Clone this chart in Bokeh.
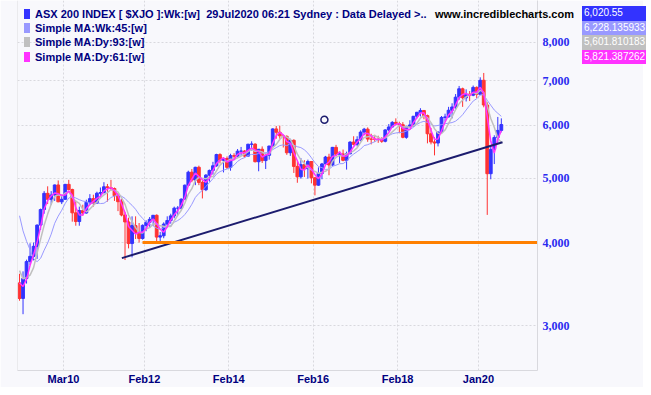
import html
import numpy as np
from bokeh.plotting import figure
from bokeh.models import (FixedTicker, NumeralTickFormatter, Span, ColumnDataSource,
                          Range1d, GridBox, Div)
from bokeh.embed import file_html
from bokeh.resources import INLINE

# ---------------- data (monthly bars, ASX 200, Feb 2009 .. Jul 2020) ----------------
start_year, start_month = 2009, 2
# closes before the first bar (May 2008 .. Jan 2009), used only to seed the moving averages
seed_closes = [5773, 5215, 4979, 5142, 4631, 4043, 3673, 3659, 3478]

closes = [
    3296, 3532, 3745, 3813, 3948, 4249, 4484, 4743, 4646, 4716, 4883,
    4606, 4646, 4893, 4807, 4433, 4302, 4469, 4431, 4599, 4657, 4584, 4745,
    4756, 4852, 4837, 4823, 4704, 4608, 4400, 4296, 3986, 4242, 4133, 4057,
    4245, 4289, 4335, 4396, 4076, 4095, 4264, 4317, 4387, 4506, 4506, 4649,
    4879, 5104, 4966, 5191, 4926, 4803, 5052, 5135, 5218, 5425, 5320, 5352,
    5190, 5405, 5395, 5489, 5492, 5396, 5623, 5625, 5292, 5526, 5313, 5411,
    5588, 5929, 5861, 5790, 5777, 5459, 5699, 5207, 5022, 5239, 5166, 5296,
    5005, 4880, 5082, 5252, 5378, 5233, 5562, 5433, 5436, 5317, 5440, 5665,
    5621, 5712, 5864, 5924, 5724, 5721, 5720, 5715, 5681, 5909, 5969, 6065,
    6037, 6016, 5759, 5982, 6011, 6195, 6280, 6320, 6208, 5830, 5667, 5646,
    5864, 6169, 6181, 6325, 6397, 6618, 6813, 6604, 6688, 6663, 6846, 6684,
    7017, 6441, 5077, 5523, 5755, 5898, 6020,
]
highs = [
    3590, 3620, 3770, 3990, 4000, 4260, 4500, 4780, 4860, 4780, 4890,
    4960, 4720, 4900, 4970, 4820, 4620, 4530, 4560, 4640, 4730, 4720, 4770,
    4840, 4930, 4900, 4970, 4840, 4750, 4650, 4440, 4360, 4380, 4380, 4280,
    4260, 4320, 4370, 4400, 4410, 4150, 4290, 4380, 4420, 4530, 4540, 4660,
    4890, 5130, 5160, 5200, 5220, 4960, 5070, 5150, 5290, 5440, 5450, 5370,
    5390, 5440, 5450, 5530, 5570, 5510, 5630, 5680, 5640, 5530, 5580, 5460,
    5590, 5940, 5990, 5996, 5800, 5800, 5730, 5720, 5300, 5360, 5320, 5330,
    5300, 5020, 5190, 5270, 5400, 5440, 5570, 5610, 5480, 5520, 5480, 5680,
    5780, 5780, 5900, 5950, 5960, 5830, 5810, 5790, 5760, 5920, 6030, 6090,
    6150, 6080, 6070, 5990, 6110, 6200, 6290, 6370, 6330, 6230, 5950, 5760,
    5880, 6200, 6250, 6400, 6480, 6690, 6880, 6840, 6800, 6760, 6890, 6870,
    7090, 7197, 6500, 5600, 5800, 6180, 6150,
]
lows = [
    3270, 3121, 3470, 3700, 3760, 3780, 4180, 4420, 4570, 4560, 4620,
    4600, 4570, 4640, 4790, 4300, 4240, 4240, 4390, 4420, 4560, 4530, 4580,
    4690, 4740, 4610, 4790, 4620, 4460, 4380, 3765, 3920, 3800, 4050, 4000,
    4040, 4160, 4210, 4240, 3980, 3985, 4060, 4220, 4270, 4350, 4400, 4480,
    4640, 4860, 4930, 4880, 4880, 4660, 4780, 4940, 5060, 5200, 5260, 5100,
    5160, 5130, 5330, 5370, 5400, 5370, 5390, 5500, 5280, 5120, 5270, 5160,
    5330, 5580, 5730, 5730, 5560, 5420, 5400, 5090, 4920, 4990, 5020, 4990,
    4910, 4710, 4870, 4980, 5230, 5050, 5210, 5390, 5270, 5300, 5150, 5430,
    5600, 5580, 5680, 5800, 5670, 5620, 5670, 5650, 5650, 5660, 5880, 5960,
    6000, 5840, 5740, 5730, 5960, 5970, 6150, 6190, 6130, 5640, 5620, 5410,
    5580, 5850, 6080, 6170, 6150, 6340, 6560, 6400, 6520, 6530, 6640, 6600,
    6680, 6390, 4402, 4980, 5250, 5650, 5860,
]

ma_periods = {"wk45": 10, "dy93": 5, "dy61": 3}  # in monthly bars

# annotations drawn on the chart
trend_t = [2011.55, 2020.57]
trend_v = [3790, 5660]
level_t = [2012.04, 2021.40]
level_v = [4000, 4000]
marker_t = [2016.35]
marker_v = [6118]

tick_pos = [2010.167, 2012.083, 2014.083, 2016.083, 2018.083, 2020.0]
tick_lab = ["Mar10", "Feb12", "Feb14", "Feb16", "Feb18", "Jan20"]
y_ticks = [3000, 4000, 5000, 6000, 7000, 8000]

header_title = "ASX 200 INDEX [ $XJO ]:Wk:[w]  29Jul2020 06:21 Sydney : Data Delayed >.."
legend_names = ["Simple MA:Wk:45:[w]", "Simple MA:Dy:93:[w]", "Simple MA:Dy:61:[w]"]
value_texts = ["6,020.55", "6,228.135933", "5,601.810183", "5,821.387262"]
site_text = "www.incrediblecharts.com"

# ---------------- derived ----------------
n = len(closes)
t = np.array([start_year + (start_month - 1 + i + 0.5) / 12.0 for i in range(n)])
c = np.array(closes, float)
o = np.array([seed_closes[-1]] + closes[:-1], float)
h = np.array(highs, float)
l = np.array(lows, float)

BLUE = "#3333ff"
RED = "#ff3333"
LAV = "#9999ff"
GREY = "#c0c0c0"
MAG = "#ff33ff"
NAVY = "#000080"
BG = "#f8f8fc"
GRIDC = "#d9d9de"

colors = [BLUE if cc >= oo else RED for cc, oo in zip(c, o)]
src = ColumnDataSource(dict(t=t, o=o, h=h, l=l, c=c,
                            top=np.maximum(o, c), bot=np.minimum(o, c), color=colors))

allc = np.array(seed_closes + closes, float)
off = len(seed_closes)


def sma(period):
    return np.array([allc[i + off - period + 1:i + off + 1].mean() for i in range(n)])


W, H = 643, 387

# ---------------- main chart ----------------
p = figure(width=W, height=H, y_axis_type="log", y_axis_location="right",
           x_range=Range1d(2009.077, 2021.399), y_range=Range1d(2568, 9250),
           output_backend="svg", toolbar_location=None,
           min_border_left=17, min_border_right=W - 537, min_border_top=0,
           min_border_bottom=H - 372,
           background_fill_color=BG, border_fill_color=BG)
p.outline_line_color = None

p.xaxis.ticker = FixedTicker(ticks=tick_pos)
p.xaxis.major_label_overrides = {k: v for k, v in zip(tick_pos, tick_lab)}
p.xaxis.major_label_text_font = "Liberation Sans"
p.xaxis.major_label_text_font_style = "bold"
p.xaxis.major_label_text_font_size = "11px"
p.xaxis.major_label_text_color = NAVY
p.xaxis.major_tick_line_color = None
p.xaxis.minor_tick_line_color = None
p.xaxis.major_tick_out = 0
p.xaxis.major_tick_in = 0
p.xaxis.major_label_standoff = 2
p.xaxis.axis_line_color = GRIDC

p.yaxis.ticker = FixedTicker(ticks=y_ticks)
p.yaxis.formatter = NumeralTickFormatter(format="0,0")
p.yaxis.major_label_text_font = "Liberation Serif"
p.yaxis.major_label_text_font_style = "bold"
p.yaxis.major_label_text_font_size = "12px"
p.yaxis.major_label_text_color = "#2b2bf0"
p.yaxis.major_tick_line_color = None
p.yaxis.minor_tick_line_color = None
p.yaxis.major_tick_out = 0
p.yaxis.major_tick_in = 0
p.yaxis.major_label_standoff = 5
p.yaxis.axis_line_color = GRIDC

p.xgrid.grid_line_color = GRIDC
p.xgrid.grid_line_dash = "2 2"
p.ygrid.grid_line_color = GRIDC
p.ygrid.grid_line_dash = "2 2"

p.add_layout(Span(location=2009.077, dimension="height", line_color=GRIDC, line_width=1))

# candles
p.segment(x0="t", y0="l", x1="t", y1="h", color="color", line_width=1, source=src)
p.vbar(x="t", width=0.066, top="top", bottom="bot", fill_color="color", fill_alpha=1,
       line_color="color", source=src)

# moving averages
p.line(t, sma(ma_periods["wk45"]), line_color=LAV, line_width=1)
p.line(t, sma(ma_periods["dy93"]), line_color=GREY, line_width=1.5)
p.line(t, sma(ma_periods["dy61"]), line_color=MAG, line_width=1.5)

# drawn annotations
p.line(trend_t, trend_v, line_color="#1c1c6e", line_width=2)
p.line(level_t, level_v, line_color="#ff8000", line_width=3)
p.scatter(marker_t, marker_v, marker="circle", size=7, fill_color=None,
          line_color="#1c1c6e", line_width=1.5)

# ---------------- header overlay (HTML, transparent, same grid cell) ----------------
FONT = "'Liberation Sans', Arial, sans-serif"
rows = [8.5, 23, 37, 51.5]
sq_colors = [BLUE, LAV, GREY, MAG]
texts = [header_title] + legend_names

parts = [f'<div style="position:relative;width:{W}px;height:{H}px;overflow:hidden;'
         f'font-family:{FONT};">']
for r, col, txt in zip(rows, sq_colors, texts):
    parts.append(f'<div style="position:absolute;left:19px;top:{r - 5}px;width:6px;'
                 f'height:10px;background:{col};"></div>')
    parts.append(f'<div style="position:absolute;left:30px;top:{r - 7}px;height:14px;'
                 f'line-height:14px;font-size:11px;font-weight:bold;color:{NAVY};'
                 f'white-space:pre;">{html.escape(txt)}</div>')
parts.append(f'<div style="position:absolute;left:430px;top:{rows[0] - 7}px;height:14px;'
             f'line-height:14px;font-size:11px;font-weight:bold;color:#000000;'
             f'white-space:pre;">{html.escape(site_text)}</div>')

box_tops = [1, 15.5, 30, 44.5]
box_h = 14.5
box_l = 577
for bt, col, txt in zip(box_tops, sq_colors, value_texts):
    parts.append(f'<div style="position:absolute;left:{box_l}px;top:{bt}px;'
                 f'width:{W - box_l - 2}px;height:{box_h}px;line-height:{box_h}px;'
                 f'padding-left:2px;background:{col};color:#ffffff;font-size:10px;'
                 f'white-space:pre;overflow:hidden;">{html.escape(txt)}</div>')
parts.append('</div>')

ov = Div(text="".join(parts), width=W, height=H, disable_math=True,
         styles={"background": "transparent"})

layout = GridBox(children=[(p, 0, 0), (ov, 0, 0)])

open("out.html", "w").write(file_html(layout, INLINE))
